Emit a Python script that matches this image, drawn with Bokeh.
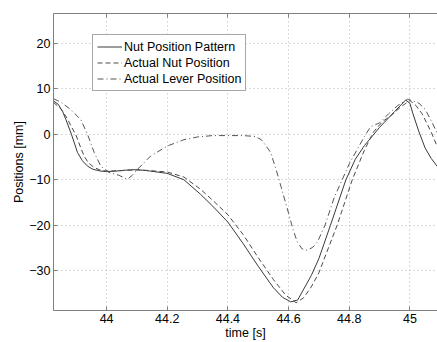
from bokeh.plotting import figure
from bokeh.models import (Range1d, LinearAxis, FixedTicker, NumeralTickFormatter,
                          Legend, LegendItem)
from bokeh.embed import file_html
from bokeh.resources import INLINE

# ---- data ----
pattern_t = [43.825, 43.84, 43.855, 43.866, 43.884, 43.904, 43.92, 43.937, 43.955, 43.981,
             44.0, 44.03, 44.06, 44.09, 44.12, 44.145, 44.2, 44.255, 44.31, 44.35, 44.4,
             44.45, 44.5, 44.55, 44.58, 44.607, 44.63, 44.65, 44.675, 44.7, 44.738, 44.789,
             44.82, 44.85, 44.9, 44.95, 44.986, 45.0, 45.01, 45.03, 45.05, 45.07, 45.092]
pattern_v = [7.3, 6.6, 5.0, 3.2, 0.0, -4.0, -5.8, -7.0, -7.7, -8.1,
             -8.2, -8.1, -7.9, -7.8, -7.9, -8.1, -8.6, -10.0, -13.2, -15.8, -19.3,
             -24.0, -29.0, -33.7, -35.8, -36.8, -36.4, -34.0, -31.0, -27.3, -20.0, -10.0,
             -5.5, -2.5, 1.5, 5.0, 7.5, 6.8, 4.5, 0.5, -3.0, -5.3, -7.2]

nut_t = [43.825, 43.85, 43.87, 43.885, 43.898, 43.915, 43.926, 43.94, 43.959, 43.98,
         44.0, 44.05, 44.1, 44.145, 44.2, 44.255, 44.31, 44.35, 44.4, 44.45, 44.5,
         44.55, 44.59, 44.625, 44.65, 44.675, 44.7, 44.76, 44.81, 44.85, 44.88, 44.91,
         44.94, 44.97, 45.0, 45.02, 45.04, 45.07, 45.092]
nut_v = [7.0, 5.5, 3.5, 1.5, 0.0, -3.0, -4.8, -6.3, -7.3, -7.9,
         -8.1, -8.0, -7.8, -8.0, -8.3, -9.4, -12.1, -14.5, -17.7, -22.0, -27.1,
         -31.9, -35.3, -37.0, -35.9, -33.5, -30.4, -20.0, -10.0, -3.5, 0.5, 2.8,
         4.2, 6.0, 7.4, 6.3, 4.5, 0.5, -3.0]

lever_t = [43.825, 43.85, 43.882, 43.915, 43.937, 43.959, 43.981, 44.008, 44.04, 44.069,
           44.085, 44.102, 44.145, 44.2, 44.255, 44.3, 44.35, 44.4, 44.45, 44.49, 44.51,
           44.525, 44.541, 44.56, 44.575, 44.596, 44.615, 44.629, 44.645, 44.662, 44.68,
           44.695, 44.72, 44.75, 44.8, 44.85, 44.87, 44.9, 44.93, 44.96, 44.993, 45.03,
           45.05, 45.07, 45.092]
lever_v = [7.8, 7.0, 5.4, 3.2, 0.0, -4.0, -7.0, -8.4, -9.0, -9.9,
           -9.0, -7.7, -4.8, -2.6, -1.2, -0.6, -0.3, -0.3, -0.3, -0.5, -1.2,
           -2.5, -4.0, -8.0, -11.5, -16.4, -21.0, -23.7, -25.2, -25.5, -24.8,
           -23.7, -20.0, -14.0, -6.5, -0.5, 1.6, 2.5, 4.5, 6.3, 7.7, 6.8,
           5.5, 3.0, 0.0]

series_names = ["Nut Position Pattern", "Actual Nut Position", "Actual Lever Position"]
x_ticks = [44, 44.2, 44.4, 44.6, 44.8, 45]
y_ticks = [-30, -20, -10, 0, 10, 20]
x_label = "time [s]"
y_label = "Positions [mm]"

FONT = "Liberation Sans"
FS = "12.5px"
AXC = "#808080"

p = figure(width=437, height=342, output_backend="svg", toolbar_location=None,
           x_range=Range1d(43.825, 45.091), y_range=Range1d(-38.7, 26.5),
           min_border_left=53, min_border_right=0, min_border_top=13, min_border_bottom=31,
           background_fill_color="white", border_fill_color="white")
p.outline_line_color = None

l1 = p.line(pattern_t, pattern_v, line_color="#3a3a3a", line_width=1)
l2 = p.line(nut_t, nut_v, line_color="#4a4a4a", line_width=1, line_dash="5 3")
l3 = p.line(lever_t, lever_v, line_color="#555555", line_width=1, line_dash="6 3 1 3")

for ax in (p.xaxis[0], p.yaxis[0]):
    ax.axis_line_color = AXC
    ax.major_tick_line_color = AXC
    ax.major_tick_in = 4
    ax.major_tick_out = 0
    ax.minor_tick_line_color = None
    ax.major_label_text_font = FONT
    ax.major_label_text_font_size = FS
    ax.major_label_text_color = "black"
    ax.axis_label_text_font = FONT
    ax.axis_label_text_font_size = FS
    ax.axis_label_text_font_style = "normal"
    ax.axis_label_text_color = "black"

p.xaxis[0].ticker = FixedTicker(ticks=x_ticks)
p.xaxis[0].formatter = NumeralTickFormatter(format="0.[0]")
p.xaxis[0].axis_label = x_label
p.xaxis[0].major_label_standoff = 3
p.xaxis[0].axis_label_standoff = 0

p.yaxis[0].ticker = FixedTicker(ticks=y_ticks)
p.yaxis[0].axis_label = y_label
p.yaxis[0].major_label_standoff = 3
p.yaxis[0].axis_label_standoff = 0

top = LinearAxis(ticker=FixedTicker(ticks=x_ticks), axis_line_color=AXC,
                 major_tick_line_color=AXC, major_tick_in=4, major_tick_out=0,
                 minor_tick_line_color=None, major_label_text_color=None,
                 major_label_text_font_size="1px", major_label_standoff=0)
p.add_layout(top, "above")

p.xgrid.ticker = FixedTicker(ticks=x_ticks)
p.ygrid.ticker = FixedTicker(ticks=y_ticks)
for g in (p.xgrid[0], p.ygrid[0]):
    g.grid_line_color = "#b4b4b4"
    g.grid_line_dash = "1 3"
    g.grid_line_width = 1

legend = Legend(items=[LegendItem(label=series_names[0], renderers=[l1]),
                       LegendItem(label=series_names[1], renderers=[l2]),
                       LegendItem(label=series_names[2], renderers=[l3])],
                location=(39, 219), padding=4, spacing=1, margin=0,
                glyph_width=25, glyph_height=15, label_height=15, label_standoff=2,
                label_text_font=FONT, label_text_font_size=FS, label_text_color="black",
                border_line_color="#505050", border_line_width=1,
                background_fill_color="white", background_fill_alpha=1.0)
p.add_layout(legend, "center")

open("out.html", "w").write(file_html(p, INLINE))
